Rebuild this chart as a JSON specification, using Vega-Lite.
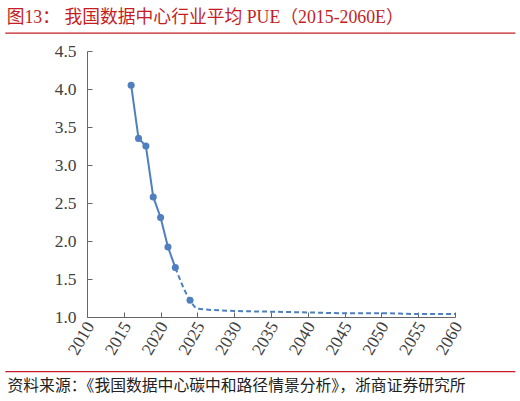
{
  "$schema": "https://vega.github.io/schema/vega-lite/v6.json",
  "width": 368,
  "height": 266,
  "autosize": {"type": "none"},
  "padding": {"left": 87, "top": 51, "right": 65, "bottom": 84},
  "background": "white",
  "config": {"view": {"stroke": null}},
  "title": {
    "text": "图13：  我国数据中心行业平均 PUE（2015-2060E）",
    "anchor": "start",
    "frame": "bounds",
    "font": "'Liberation Serif', 'Noto Sans CJK SC'",
    "fontSize": 17.8,
    "fontWeight": "normal",
    "color": "#C41E24",
    "dx": 2,
    "offset": 6
  },
  "datasets": {
    "pue": [
      {"year": 2016, "pue": 4.05, "series": "actual", "marked": true},
      {"year": 2017, "pue": 3.35, "series": "actual", "marked": true},
      {"year": 2018, "pue": 3.25, "series": "actual", "marked": true},
      {"year": 2019, "pue": 2.58, "series": "actual", "marked": true},
      {"year": 2020, "pue": 2.31, "series": "actual", "marked": true},
      {"year": 2021, "pue": 1.92, "series": "actual", "marked": true},
      {"year": 2022, "pue": 1.65, "series": "actual", "marked": true},
      {"year": 2022, "pue": 1.65, "series": "forecast", "marked": false},
      {"year": 2024, "pue": 1.22, "series": "forecast", "marked": true},
      {"year": 2025, "pue": 1.11, "series": "forecast", "marked": false},
      {"year": 2030, "pue": 1.08, "series": "forecast", "marked": false},
      {"year": 2035, "pue": 1.07, "series": "forecast", "marked": false},
      {"year": 2040, "pue": 1.06, "series": "forecast", "marked": false},
      {"year": 2045, "pue": 1.05, "series": "forecast", "marked": false},
      {"year": 2050, "pue": 1.05, "series": "forecast", "marked": false},
      {"year": 2055, "pue": 1.04, "series": "forecast", "marked": false},
      {"year": 2060, "pue": 1.04, "series": "forecast", "marked": false}
    ],
    "frame": [
      {"pos": "top", "start": 1998.9, "end": 2068.2, "level": 4.735},
      {"pos": "bottom", "start": 1998.9, "end": 2068.2, "level": 0.28}
    ]
  },
  "encoding": {
    "x": {
      "field": "year",
      "type": "quantitative",
      "scale": {"domain": [2010, 2060], "nice": false, "zero": false},
      "axis": {
        "title": null,
        "values": [2010, 2015, 2020, 2025, 2030, 2035, 2040, 2045, 2050, 2055, 2060],
        "format": "d",
        "grid": false,
        "labelAngle": -60,
        "labelFont": "Liberation Serif",
        "labelFontSize": 17.5,
        "labelColor": "#404040",
        "labelPadding": 11,
        "labelOffset": 3,
        "tickSize": -5,
        "tickColor": "#666666",
        "domainColor": "#666666",
        "labelFlush": false,
        "labelOverlap": false
      }
    },
    "y": {
      "field": "pue",
      "type": "quantitative",
      "scale": {"domain": [1, 4.5], "nice": false, "zero": false},
      "axis": {
        "title": null,
        "values": [1, 1.5, 2, 2.5, 3, 3.5, 4, 4.5],
        "format": ".1f",
        "grid": false,
        "labelFont": "Liberation Serif",
        "labelFontSize": 17.5,
        "labelColor": "#404040",
        "labelPadding": 16,
        "tickSize": -5,
        "tickColor": "#666666",
        "domainColor": "#666666",
        "labelFlush": false,
        "labelOverlap": false
      }
    }
  },
  "layer": [
    {
      "data": {"name": "pue"},
      "transform": [{"filter": "datum.series == 'forecast'"}],
      "mark": {"type": "line", "interpolate": "monotone", "color": "#4F7FBF", "strokeWidth": 2, "strokeDash": [5, 3]}
    },
    {
      "data": {"name": "pue"},
      "transform": [{"filter": "datum.series == 'actual'"}],
      "mark": {"type": "line", "color": "#4F7FBF", "strokeWidth": 2}
    },
    {
      "data": {"name": "pue"},
      "transform": [{"filter": "datum.marked"}],
      "mark": {"type": "point", "filled": true, "opacity": 1, "size": 50, "color": "#4F7FBF"}
    },
    {
      "data": {"name": "frame"},
      "mark": {"type": "rule", "color": "#C41E24", "strokeWidth": 1.3},
      "encoding": {
        "x": {"field": "start", "type": "quantitative"},
        "x2": {"field": "end"},
        "y": {"field": "level", "type": "quantitative"}
      }
    },
    {
      "data": {"values": [{"note": "资料来源：《我国数据中心碳中和路径情景分析》，浙商证券研究所", "year": 1999.2, "level": 0.09}]},
      "mark": {"type": "text", "align": "left", "baseline": "middle", "font": "'Noto Sans CJK SC'", "fontSize": 15.8, "color": "#222222"},
      "encoding": {
        "x": {"field": "year", "type": "quantitative"},
        "y": {"field": "level", "type": "quantitative"},
        "text": {"field": "note"}
      }
    }
  ]
}
